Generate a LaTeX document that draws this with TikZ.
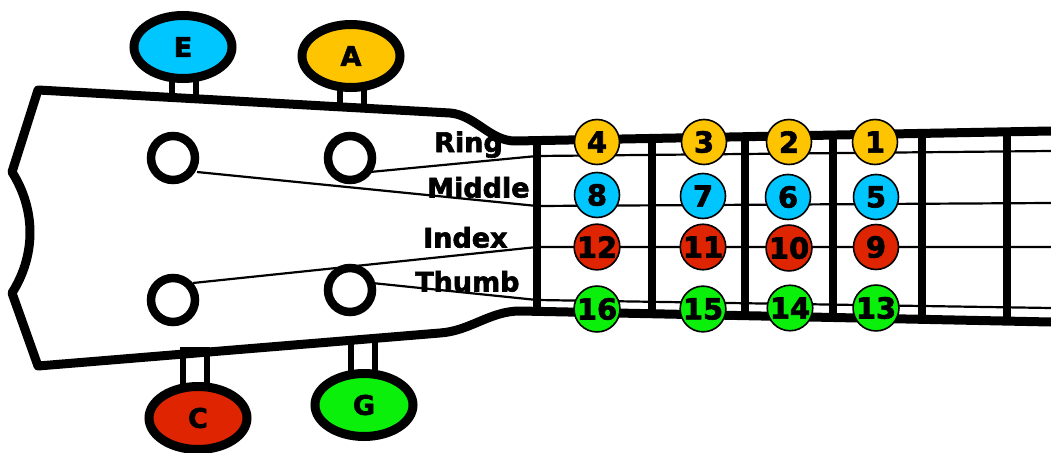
\documentclass[tikz,border=0pt]{standalone}
\usepackage{fontspec}
\usetikzlibrary{shapes.geometric}
\newfontfamily\djv{DejaVu Sans Bold}[FakeBold=2.2]
\definecolor{ublue}{RGB}{0,198,255}
\definecolor{uyellow}{RGB}{255,196,0}
\definecolor{ured}{RGB}{222,36,0}
\definecolor{ugreen}{RGB}{10,240,10}
\begin{document}
\begin{tikzpicture}[x=1pt,y=-1pt,
  outline/.style={line width=9, line join=round},
  stem/.style={draw, line width=6, fill=white},
  tuner/.style={ellipse, draw, line width=9, minimum width=98, minimum height=63,
    inner sep=0, font=\djv\fontsize{27}{27}\selectfont},
  peg/.style={circle, draw, line width=8.5, minimum size=44, fill=white, inner sep=0},
  fret/.style={line width=8},
  gut/.style={line width=2.2},
  finger/.style={circle, draw, line width=1.6, minimum size=45, inner sep=0,
    font=\djv\fontsize{29}{29}\selectfont},
  lbl/.style={anchor=base west, inner sep=0, font=\djv\fontsize{27}{27}\selectfont}
]
\useasboundingbox (0,0) rectangle (1051,452);

% tuner stems
\draw[stem] (172,76) rectangle (196,97);
\draw[stem] (340,84) rectangle (364,108);
\draw[stem] (183,350) rectangle (207,386);
\draw[stem] (351,340) rectangle (375,376);

% headstock and neck outline
\draw[outline] (1051,131) -- (515,141)
  .. controls (490,141) and (475,115) .. (450,113)
  -- (38,90) -- (12,172)
  .. controls (36,210) and (36,255) .. (12,293)
  -- (38,366) -- (440,333)
  .. controls (470,331) and (490,311) .. (520,311)
  -- (1051,322);

% nut and frets
\coordinate (n0t) at (537,140.6); \coordinate (n0b) at (537,311.4);
\coordinate (n1t) at (652,138.4); \coordinate (n1b) at (652,313.7);
\coordinate (n2t) at (745,136.7); \coordinate (n2b) at (745,315.7);
\coordinate (n3t) at (833,135.0); \coordinate (n3b) at (833,317.5);
\coordinate (n4t) at (922,133.4); \coordinate (n4b) at (922,319.3);
\coordinate (n5t) at (1007,131.8); \coordinate (n5b) at (1007,321.1);
\foreach \i in {0,...,5} { \draw[fret] (n\i t) -- (n\i b); }

% string anchor points
\coordinate (sA) at (370,172);
\coordinate (sE) at (197,172);
\coordinate (sC) at (193,283);
\coordinate (sG) at (372,283);
\coordinate (nA) at (537,156); \coordinate (eA) at (1051,151);
\coordinate (nE) at (537,206); \coordinate (eE) at (1051,203);
\coordinate (nC) at (537,247); \coordinate (eC) at (1051,247);
\coordinate (nG) at (537,300); \coordinate (eG) at (1051,308);

% strings
\draw[gut] (sA) -- (nA) -- (eA);
\draw[gut] (sE) -- (nE) -- (eE);
\draw[gut] (sC) -- (nC) -- (eC);
\draw[gut] (sG) -- (nG) -- (eG);

% tuning pegs
\node[peg] (pE) at (173,158) {};
\node[peg] (pA) at (350,158) {};
\node[peg] (pC) at (173,300) {};
\node[peg] (pG) at (350,290) {};

% tuner buttons
\node[tuner, fill=ublue] (tE) at (183,47) {E};
\node[tuner, fill=uyellow] (tA) at (351,56) {A};
\node[tuner, fill=ured] (tC) at (198,418) {C};
\node[tuner, fill=ugreen] (tG) at (364,405) {G};

% finger labels
\node[lbl] (ring) at (434,152) {Ring};
\node[lbl] (middle) at (427,197.5) {Middle};
\node[lbl] (index) at (423,247.5) {Index};
\node[lbl] (thumb) at (415,291.5) {Thumb};

% fingering positions
\node[finger, fill=uyellow] (f4) at (597,142) {4};
\node[finger, fill=uyellow] (f3) at (704,142) {3};
\node[finger, fill=uyellow] (f2) at (789,142) {2};
\node[finger, fill=uyellow] (f1) at (875,142) {1};
\node[finger, fill=ublue] (f8) at (597,195) {8};
\node[finger, fill=ublue] (f7) at (703,196) {7};
\node[finger, fill=ublue] (f6) at (788,197) {6};
\node[finger, fill=ublue] (f5) at (876,197) {5};
\node[finger, fill=ured] (f12) at (597,247) {12};
\node[finger, fill=ured] (f11) at (703,247) {11};
\node[finger, fill=ured] (f10) at (789,248) {10};
\node[finger, fill=ured] (f9) at (876,247) {9};
\node[finger, fill=ugreen] (f16) at (597,309) {16};
\node[finger, fill=ugreen] (f15) at (703,309) {15};
\node[finger, fill=ugreen] (f14) at (790,308) {14};
\node[finger, fill=ugreen] (f13) at (876,308) {13};
\end{tikzpicture}
\end{document}
